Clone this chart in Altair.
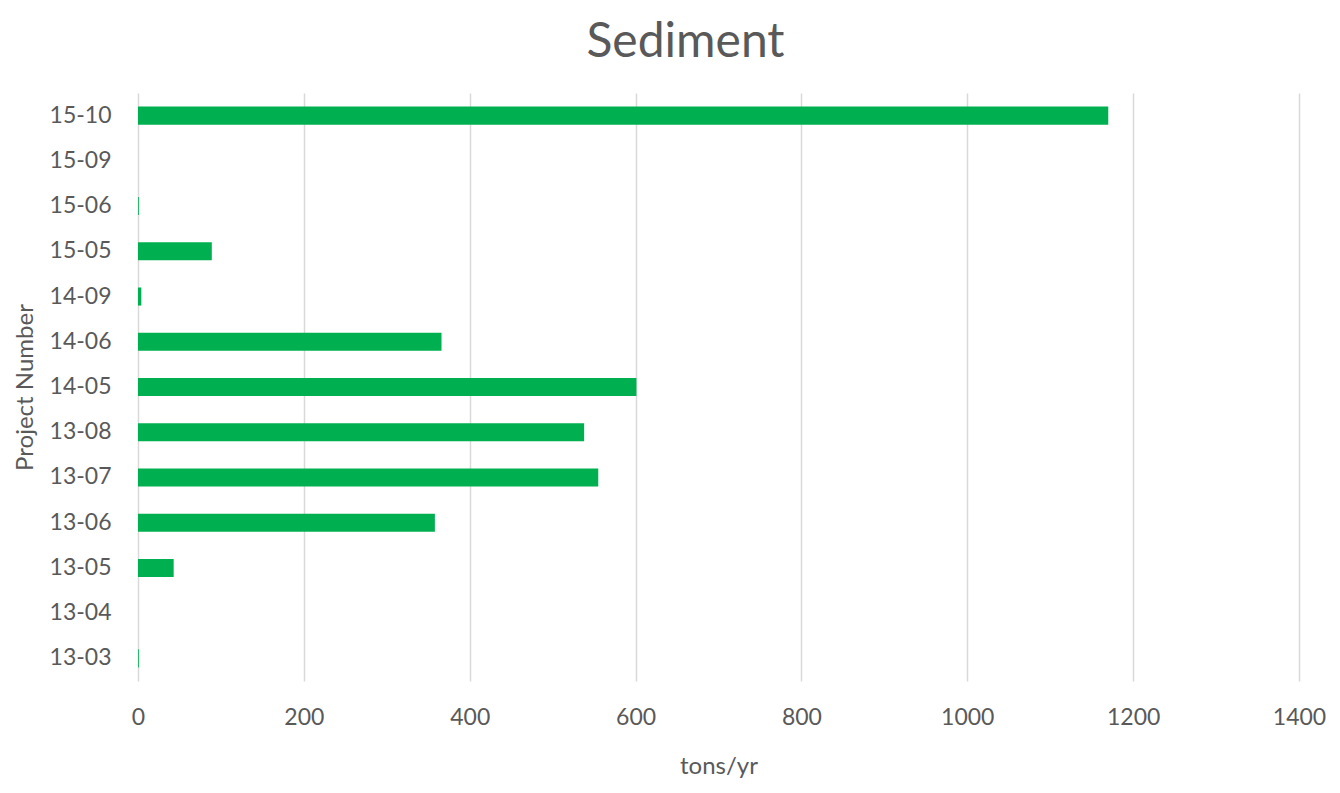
import altair as alt
import pandas as pd

# Sediment load per project (tons/yr)
projects = ["15-10", "15-09", "15-06", "15-05", "14-09", "14-06", "14-05",
            "13-08", "13-07", "13-06", "13-05", "13-04", "13-03"]
sediment = [1170, 0, 1, 89, 4, 366, 601, 538, 555, 358, 43, 0, 1]
x_ticks = [0, 200, 400, 600, 800, 1000, 1200, 1400]

df = pd.DataFrame({"project": projects, "tons": sediment})

font = "Lato"
grey = "#595959"

chart = alt.Chart(df).mark_bar(color="#00B050").encode(
    x=alt.X(
        "tons:Q",
        title="tons/yr",
        scale=alt.Scale(domain=[0, 1400], nice=False),
        axis=alt.Axis(
            values=x_ticks,
            format="d",
            labelFlush=False,
            grid=True,
            gridColor="#D9D9D9",
            gridWidth=1.5,
            domain=False,
            ticks=False,
            labelPadding=25,
            labelFontSize=23,
            labelColor=grey,
            labelFont=font,
            titleFontSize=24,
            titleColor=grey,
            titleFont=font,
            titleFontWeight="normal",
            titlePadding=25,
        ),
    ),
    y=alt.Y(
        "project:N",
        title="Project Number",
        sort=projects,
        scale=alt.Scale(paddingInner=0.6, paddingOuter=0.3),
        axis=alt.Axis(
            domain=False,
            ticks=False,
            grid=False,
            labelPadding=27,
            labelFontSize=23,
            labelColor=grey,
            labelFont=font,
            titleFontSize=24,
            titleColor=grey,
            titleFont=font,
            titleFontWeight="normal",
            titlePadding=12,
        ),
    ),
).properties(
    width=1161,
    height=588,
    title=alt.TitleParams(
        "Sediment",
        fontSize=48,
        font=font,
        fontWeight="normal",
        color=grey,
        anchor="middle",
        dx=-33,
        offset=26,
    ),
    autosize=alt.AutoSizeParams(type="none"),
    padding={"left": 138, "top": 93, "right": 41, "bottom": 112},
    background="white",
).configure_view(stroke=None, strokeWidth=0)

chart.save("out.html", embed_options={"renderer": "svg", "actions": False})
